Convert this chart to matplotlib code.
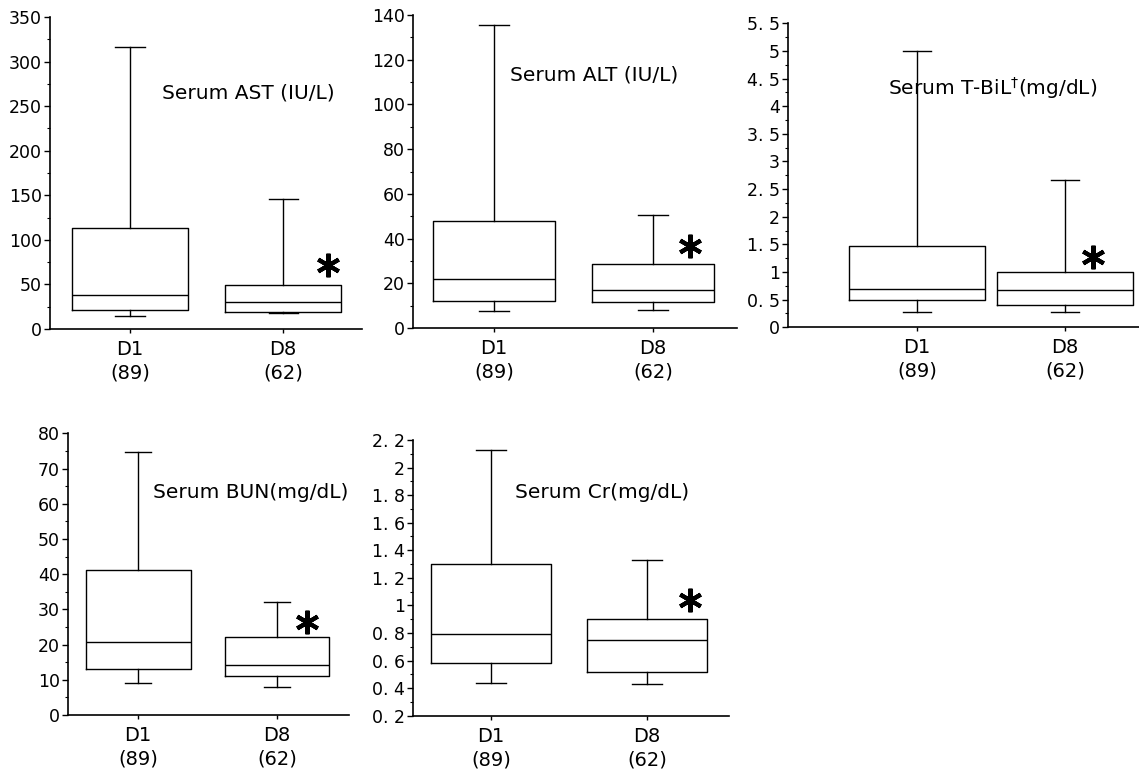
import matplotlib
matplotlib.use("Agg")
import matplotlib.pyplot as plt
from matplotlib.ticker import FixedLocator, MultipleLocator

plt.rcParams['font.family'] = ['DejaVu Sans']

groups = ["D1", "D8"]
group_n = ["(89)", "(62)"]

titles = ["Serum AST (IU/L)", "Serum ALT (IU/L)", "Serum T-BiL$^{\u2020}$(mg/dL)",
          "Serum BUN(mg/dL)", "Serum Cr(mg/dL)"]

# [whisker low, Q1, median, Q3, whisker high] for D1 and D8
ast_d1 = [15, 21, 38, 113, 316]
ast_d8 = [17.5, 19.5, 30, 49, 146]
alt_d1 = [7.7, 12.2, 21.8, 48, 135.5]
alt_d8 = [8, 11.8, 17, 28.5, 50.4]
tbil_d1 = [0.28, 0.49, 0.69, 1.47, 5.0]
tbil_d8 = [0.27, 0.40, 0.68, 1.0, 2.67]
bun_d1 = [9, 13, 20.8, 41.2, 74.6]
bun_d8 = [8, 11.1, 14.2, 22.2, 32.2]
cr_d1 = [0.44, 0.58, 0.79, 1.30, 2.13]
cr_d8 = [0.43, 0.52, 0.75, 0.90, 1.33]

ast_ticks = [0, 50, 100, 150, 200, 250, 300, 350]
ast_labels = ["0", "50", "100", "150", "200", "250", "300", "350"]
alt_ticks = [0, 20, 40, 60, 80, 100, 120, 140]
alt_labels = ["0", "20", "40", "60", "80", "100", "120", "140"]
tbil_ticks = [0, 0.5, 1, 1.5, 2, 2.5, 3, 3.5, 4, 4.5, 5, 5.5]
tbil_labels = ["0", "0. 5", "1", "1. 5", "2", "2. 5", "3", "3. 5", "4", "4. 5", "5", "5. 5"]
bun_ticks = [0, 10, 20, 30, 40, 50, 60, 70, 80]
bun_labels = ["0", "10", "20", "30", "40", "50", "60", "70", "80"]
cr_ticks = [0.2, 0.4, 0.6, 0.8, 1.0, 1.2, 1.4, 1.6, 1.8, 2.0, 2.2]
cr_labels = ["0. 2", "0. 4", "0. 6", "0. 8", "1", "1. 2", "1. 4", "1. 6", "1. 8", "2", "2. 2"]

panels = [
    (ast_d1, ast_d8, ast_ticks, ast_labels),
    (alt_d1, alt_d8, alt_ticks, alt_labels),
    (tbil_d1, tbil_d8, tbil_ticks, tbil_labels),
    (bun_d1, bun_d8, bun_ticks, bun_labels),
    (cr_d1, cr_d8, cr_ticks, cr_labels),
]

W, H = 1139, 779
# layout in pixels: left, right, top, bottom, xlim, box width, title pos, star pos
layout = [
    dict(px=(50, 362, 17, 329), xlim=(0.477, 2.516), bw=0.76, tpos=(0.359, 0.756), spos=(0.89, 0.205)),
    dict(px=(413, 737, 15, 328), xlim=(0.49, 2.53), bw=0.77, tpos=(0.30, 0.808), spos=(0.855, 0.262)),
    dict(px=(788, 1139, 23.3, 327.3), xlim=(0.128, 2.5), bw=0.92, tpos=(0.285, 0.787), spos=(0.869, 0.231)),
    dict(px=(68, 349, 433.3, 715), xlim=(0.496, 2.518), bw=0.755, tpos=(0.302, 0.79), spos=(0.85, 0.33)),
    dict(px=(413, 729, 440, 715.7), xlim=(0.5, 2.526), bw=0.77, tpos=(0.323, 0.811), spos=(0.877, 0.42)),
]

fig = plt.figure(figsize=(W / 100, H / 100), dpi=100)

for (d1, d8, ticks, labels), title, lay in zip(panels, titles, layout):
    l, r, t, b = lay["px"]
    ax = fig.add_axes([l / W, 1 - b / H, (r - l) / W, (b - t) / H])
    stats = []
    for name, v in zip(groups, [d1, d8]):
        stats.append(dict(label=name, whislo=v[0], q1=v[1], med=v[2], q3=v[3], whishi=v[4], fliers=[]))
    ax.bxp(stats, positions=[1, 2], widths=lay["bw"], capwidths=0.19, showfliers=False,
           boxprops=dict(color="black", linewidth=1.0),
           medianprops=dict(color="black", linewidth=1.0),
           whiskerprops=dict(color="black", linewidth=1.0),
           capprops=dict(color="black", linewidth=1.0))
    ax.set_xlim(*lay["xlim"])
    ax.set_ylim(ticks[0], ticks[-1])
    ax.yaxis.set_major_locator(FixedLocator(ticks))
    ax.set_yticklabels(labels)
    step = ticks[1] - ticks[0]
    ax.yaxis.set_minor_locator(MultipleLocator(step / 2))
    ax.set_xticks([1, 2])
    ax.set_xticklabels([f"{g}\n{n}" for g, n in zip(groups, group_n)], fontsize=14, linespacing=1.3)
    ax.tick_params(axis="y", which="major", direction="out", length=4, width=1, labelsize=12.5, pad=2)
    ax.tick_params(axis="y", which="minor", direction="out", length=2, width=0.8)
    ax.tick_params(axis="x", which="major", direction="out", length=3, width=1, pad=5)
    for s in ["top", "right"]:
        ax.spines[s].set_visible(False)
    for s in ["left", "bottom"]:
        ax.spines[s].set_linewidth(1.2)
    ax.text(lay["tpos"][0], lay["tpos"][1], title, transform=ax.transAxes,
            fontsize=14.5, ha="left", va="center")
    ax.plot([lay["spos"][0]], [lay["spos"][1]], transform=ax.transAxes,
            marker=(6, 2, 0), markersize=17, markeredgewidth=3.0, color="black",
            linestyle="none", clip_on=False)

fig.savefig("out.png", dpi=100)
